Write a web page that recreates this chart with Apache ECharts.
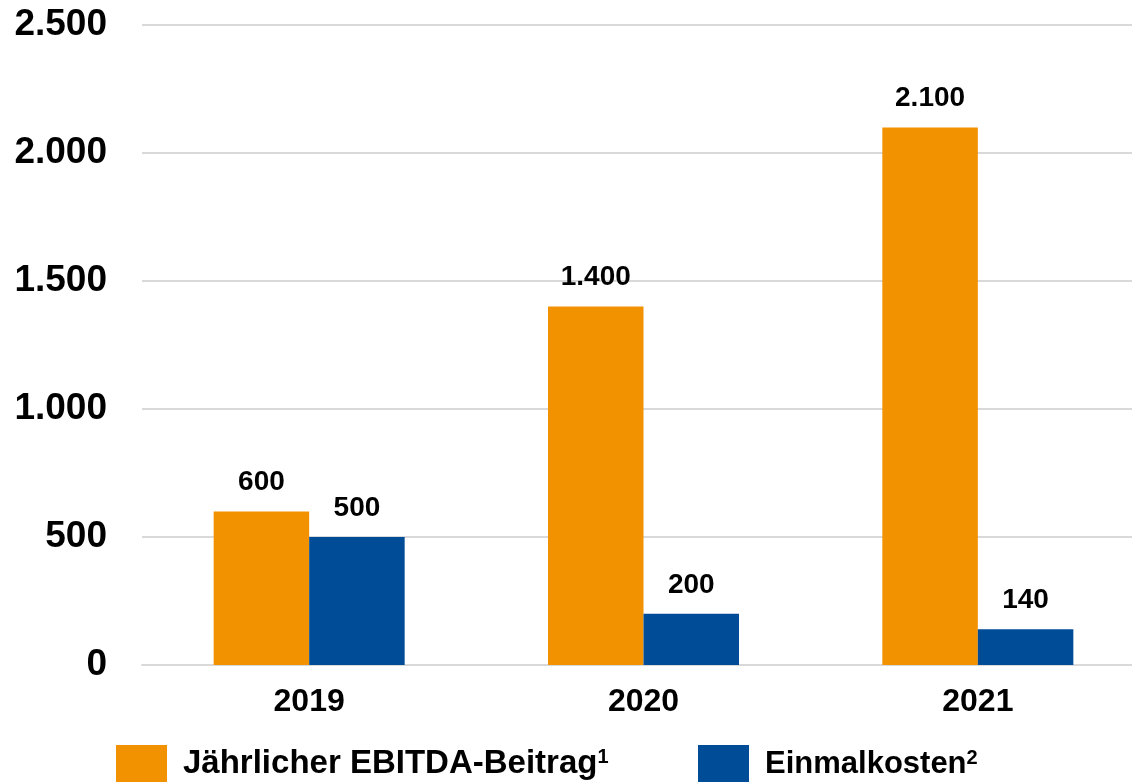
<!DOCTYPE html>
<html>
<head>
<meta charset="utf-8">
<script src="https://cdn.jsdelivr.net/npm/echarts@6/dist/echarts.min.js"></script>
<style>
  html, body { margin: 0; padding: 0; background: #ffffff; }
  #chart { width: 1132px; height: 782px; }
</style>
</head>
<body>
<div id="chart"></div>
<script>
// Years on the x axis
const categories = ['2019', '2020', '2021'];
// Annual EBITDA contribution and one-off costs per year
const ebitdaValues = [600, 1400, 2100];
const oneOffValues = [500, 200, 140];
// Series names (with footnote numbers)
const seriesNames = ['Jährlicher EBITDA-Beitrag', 'Einmalkosten'];
const footnotes = ['1', '2'];

const FONT = '"Liberation Sans", Arial, Helvetica, sans-serif';
const ORANGE = '#F39200';
const BLUE = '#004C97';

// German thousands separator: 2500 -> "2.500"
function deNumber(v) {
  return String(Math.round(v)).replace(/\B(?=(\d{3})+(?!\d))/g, '.');
}

function legendFor(index, left, nameSize) {
  return {
    data: [seriesNames[index]],
    left: left,
    top: 745,
    padding: 0,
    icon: 'rect',
    itemWidth: 51,
    itemHeight: 38,
    selectedMode: false,
    formatter: function (name) {
      return '{n|' + name + '}{s|' + footnotes[index] + '}';
    },
    textStyle: {
      fontFamily: FONT,
      fontWeight: 'bold',
      color: '#000',
      rich: {
        n: { fontFamily: FONT, fontWeight: 'bold', fontSize: nameSize, color: '#000', padding: [0, 0, 0, 11] },
        s: { fontFamily: FONT, fontWeight: 'bold', fontSize: 20, color: '#000', verticalAlign: 'top', lineHeight: 20, padding: [0, 0, 10, 0] }
      }
    }
  };
}

const chart = echarts.init(document.getElementById('chart'), null, { renderer: 'canvas' });

chart.setOption({
  backgroundColor: '#ffffff',
  animation: false,
  // The plot area runs a little past the right edge of the canvas
  grid: { left: 142, width: 1003, top: 25, bottom: 117, containLabel: false, outerBoundsMode: 'none' },
  legend: [legendFor(0, 116, 33), legendFor(1, 698, 31)],
  xAxis: {
    type: 'category',
    data: categories,
    axisLine: { show: true, lineStyle: { color: '#d9d9d9', width: 2 } },
    axisTick: { show: false },
    axisLabel: {
      margin: 21,
      fontFamily: FONT,
      fontWeight: 'bold',
      fontSize: 32,
      color: '#000'
    }
  },
  yAxis: {
    type: 'value',
    min: 0,
    max: 2500,
    interval: 500,
    axisLine: { show: false },
    axisTick: { show: false },
    splitLine: { lineStyle: { color: '#d9d9d9', width: 2 } },
    axisLabel: {
      margin: 35,
      fontFamily: FONT,
      fontWeight: 'bold',
      fontSize: 37,
      color: '#000',
      formatter: deNumber
    }
  },
  series: [
    {
      name: seriesNames[0],
      type: 'bar',
      data: ebitdaValues,
      barWidth: 95.5,
      barGap: '0%',
      itemStyle: { color: ORANGE },
      label: {
        show: true,
        position: 'top',
        distance: 15,
        fontFamily: FONT,
        fontWeight: 'bold',
        fontSize: 28,
        color: '#000',
        formatter: function (p) { return deNumber(p.value); }
      }
    },
    {
      name: seriesNames[1],
      type: 'bar',
      data: oneOffValues,
      barWidth: 95.5,
      barGap: '0%',
      itemStyle: { color: BLUE },
      label: {
        show: true,
        position: 'top',
        distance: 15,
        fontFamily: FONT,
        fontWeight: 'bold',
        fontSize: 28,
        color: '#000',
        formatter: function (p) { return deNumber(p.value); }
      }
    }
  ]
});
</script>
</body>
</html>
